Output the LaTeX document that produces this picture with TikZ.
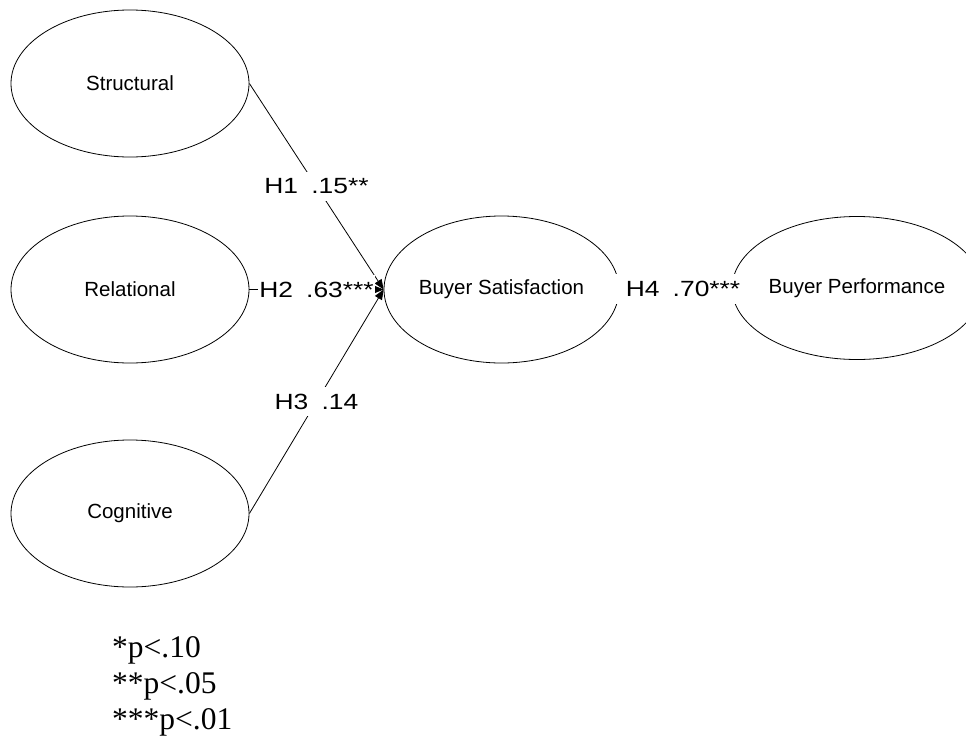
\documentclass[tikz,border=0pt]{standalone}
\usepackage{fontspec}
\usepackage{graphicx}
\setmainfont{Liberation Serif}
\setsansfont{Liberation Sans}
\usetikzlibrary{shapes.geometric,arrows.meta}
% path coefficient label: hypothesis and estimate, slightly widened
\newcommand\estlabel[2]{\scalebox{1.2}[1]{#1\hspace{0.5em}#2}}
\begin{document}
\begin{tikzpicture}[x=1pt,y=-1pt,
  construct/.style={draw, ellipse, line width=0.8pt, inner sep=0pt,
    minimum width=238pt, minimum height=147pt,
    font=\sffamily\fontsize{20.5}{24}\selectfont},
  link/.style={draw, line width=0.8pt, -{Triangle[length=10pt,width=8pt]}},
  coef/.style={fill=white, inner xsep=1pt, inner ysep=7pt,
    font=\sffamily\fontsize{22}{26}\selectfont},
  note/.style={anchor=base west, inner sep=0pt,
    font=\rmfamily\fontsize{31.5}{36}\selectfont}]
\clip (0,0) rectangle (966,736);

% latent constructs
\node[construct] (str) at (130,83.5) {Structural};
\node[construct] (rel) at (130,289.5) {Relational};
\node[construct] (cog) at (130,513.5) {Cognitive};
\node[construct, minimum width=235pt] (sat) at (501.5,289.5) {Buyer Satisfaction};
\node[construct, minimum width=236pt, minimum height=143pt] (perf) at (857,288) {Buyer Performance};

% structural paths
\draw[link] (str.east) -- node[coef] {\estlabel{H1}{.15**}} (sat.west);
\draw[link] (rel.east) -- node[coef] {\estlabel{H2}{.63***}} (sat.west);
\draw[link] (cog.east) -- node[coef] {\estlabel{H3}{.14}} (sat.west);
\draw[link] (sat.east) -- node[coef, pos=0.513] {\hspace*{12pt}\estlabel{H4}{.70***}} (perf.west);

% significance levels
\node[note] (sig1) at (112,657) {*p<.10};
\node[note] (sig2) at (112,693) {**p<.05};
\node[note] (sig3) at (112,729) {***p<.01};
\end{tikzpicture}
\end{document}
